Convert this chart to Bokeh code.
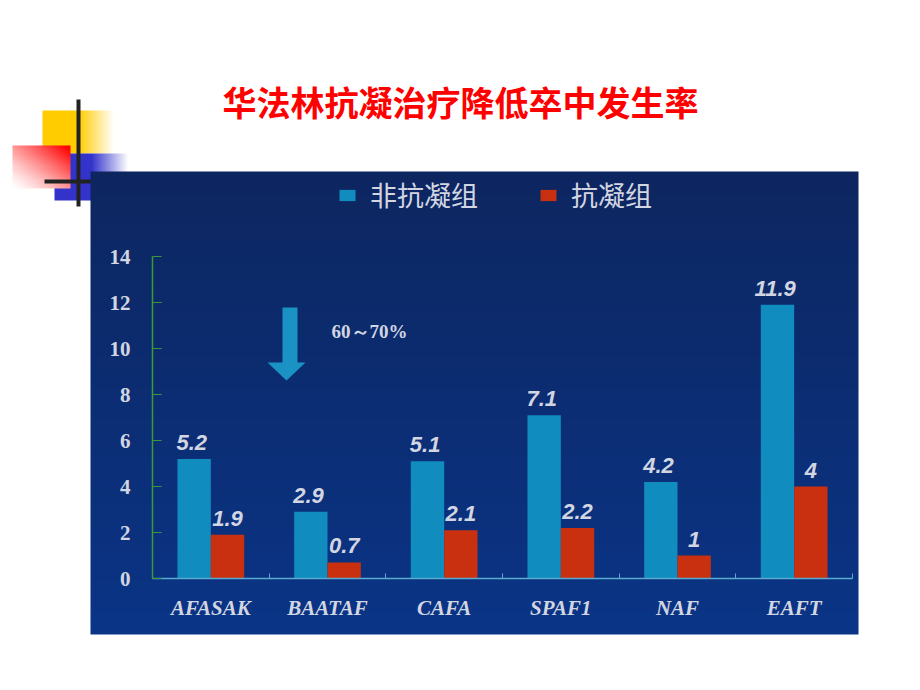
import numpy as np
from bokeh.plotting import figure
from bokeh.models import (ColumnDataSource, Range1d, LinearAxis, FixedTicker,
                          Legend, LegendItem)
from bokeh.transform import dodge
from bokeh.core.properties import value
from bokeh.embed import file_html
from bokeh.resources import INLINE

# ---------------- data ----------------
title_text = "华法林抗凝治疗降低卒中发生率"
categories = ["AFASAK", "BAATAF", "CAFA", "SPAF1", "NAF", "EAFT"]
non_anticoag = [5.2, 2.9, 5.1, 7.1, 4.2, 11.9]
anticoag = [1.9, 0.7, 2.1, 2.2, 1.0, 4.0]
series_names = ["非抗凝组", "抗凝组"]
y_ticks = [0, 2, 4, 6, 8, 10, 12, 14]
annotation_text = "60～70%"

# ---------------- styling / layout ----------------
W, H = 904, 674
ORIGIN = 0                          # page offset of the canvas
PX_X0, PX_PER_X = 152.0, 116.667   # pixel of x=0, pixels per category
PX_Y0, PX_PER_Y = 578.0, 23.0      # pixel of y=0, pixels per unit


def dx(px):
    return (px - PX_X0) / PX_PER_X


def dy(py):
    return (PX_Y0 - py) / PX_PER_Y


BLUE = "#108cbe"
RED = "#c83010"
LIGHT = "#d2d6e2"

p = figure(width=W, height=H, output_backend="svg", toolbar_location=None,
           x_axis_type=None, y_axis_type=None, title=None,
           x_range=Range1d(dx(ORIGIN), dx(ORIGIN + W)),
           y_range=Range1d(dy(ORIGIN + H), dy(ORIGIN)),
           min_border=0, min_border_left=0, min_border_right=0,
           min_border_top=0, min_border_bottom=0)
p.background_fill_color = "white"
p.border_fill_color = "white"
p.outline_line_color = None


def rgba_img(h, w, fn):
    a = np.zeros((h, w, 4), dtype=np.uint8)
    for r in range(h):
        for c in range(w):
            a[r, c] = fn(r / max(h - 1, 1), c / max(w - 1, 1))
    return a.view(np.uint32).reshape(h, w)


def mix(c1, c2, t):
    return [int(round(c1[i] * (1 - t) + c2[i] * t)) for i in range(3)] + [255]


WHITE = (255, 255, 255)


def place(img, left, top, right, bottom, level):
    p.image_rgba(image=[img], x=dx(left), y=dy(bottom),
                 dw=(right - left) / PX_PER_X, dh=(bottom - top) / PX_PER_Y,
                 level=level)


# decorations (slide template)
yel = (255, 204, 0)
place(rgba_img(2, 72, lambda v, u: mix(yel, WHITE, max(0.0, (u - 0.5) / 0.5))),
      42, 110, 114, 153, "image")
blu = (51, 51, 204)
place(rgba_img(2, 74, lambda v, u: mix(blu, WHITE, max(0.0, (u - 0.5) / 0.5))),
      54, 153, 128, 200, "image")
red = (255, 0, 0)
place(rgba_img(40, 58, lambda v, u: mix(WHITE, red, min(1.0, ((u + v) / 2) ** 1.3 * 1.05))),
      12, 145, 70, 188, "image")
p.segment(x0=[dx(78)], y0=[dy(99)], x1=[dx(78)], y1=[dy(206)],
          line_color="#222222", line_width=4, level="image")
p.segment(x0=[dx(44)], y0=[dy(181)], x1=[dx(95)], y1=[dy(181)],
          line_color="#222222", line_width=4, level="image")

# dark blue panel with vertical gradient
top_c, bot_c = (13, 38, 96), (10, 52, 134)
place(rgba_img(60, 1, lambda v, u: mix(bot_c, top_c, v)), 90, 171, 858, 634, "underlay")

# title
p.text(x=[dx(460)], y=[dy(101)], text=[title_text], text_align="center",
       text_baseline="middle", text_color="#ff0000",
       text_font=value("Noto Sans CJK SC"), text_font_style="bold",
       text_font_size="34px")

# bars
src = ColumnDataSource(dict(
    x=[i + 0.5 for i in range(len(categories))],
    a=non_anticoag, b=anticoag,
    la=[f"{v:g}" for v in non_anticoag],
    lb=[f"{v:g}" for v in anticoag],
))
bw = 0.286
r1 = p.vbar(x=dodge("x", -bw / 2), top="a", width=bw, source=src,
            fill_color=BLUE, line_color=None)
r2 = p.vbar(x=dodge("x", bw / 2), top="b", width=bw, source=src,
            fill_color=RED, line_color=None)

lab_kw = dict(text_align="center", text_baseline="bottom", y_offset=-9,
              text_color=LIGHT, text_font=value("Liberation Sans"),
              text_font_style="bold italic", text_font_size="22px", source=src)
p.text(x=dodge("x", -bw / 2 - 0.02), y="a", text="la", **lab_kw)
p.text(x=dodge("x", bw / 2), y="b", text="lb", **lab_kw)

# arrow + annotation
p.patch(x=[dx(v) for v in [282, 297, 297, 305, 286, 267, 282]],
        y=[dy(v) for v in [307, 307, 362, 362, 380, 362, 362]],
        fill_color="#1a92c4", line_color=None)
p.text(x=[dx(331)], y=[dy(331)], text=[annotation_text], text_align="left",
       text_baseline="middle", text_color=LIGHT,
       text_font=value("Liberation Serif"), text_font_style="bold",
       text_font_size="19px")

# axes
xaxis = LinearAxis(fixed_location=0, bounds=(0, len(categories)))
xaxis.ticker = FixedTicker(ticks=[i + 0.5 for i in range(len(categories))],
                           minor_ticks=list(range(len(categories) + 1)))
xaxis.major_label_overrides = {i + 0.5: c for i, c in enumerate(categories)}
xaxis.major_tick_in = 0
xaxis.major_tick_out = 0
xaxis.minor_tick_in = 5
xaxis.minor_tick_out = 0
xaxis.axis_line_color = "#5aaad2"
xaxis.minor_tick_line_color = "#5aaad2"
xaxis.axis_line_width = 1.5
xaxis.major_label_standoff = 17
xaxis.major_label_text_font = "Liberation Serif"
xaxis.major_label_text_font_style = "bold italic"
xaxis.major_label_text_font_size = "21px"
xaxis.major_label_text_color = LIGHT
p.add_layout(xaxis, "below")

yaxis = LinearAxis(fixed_location=0, bounds=(0, 14))
yaxis.ticker = FixedTicker(ticks=y_ticks, minor_ticks=[])
yaxis.major_tick_in = 9
yaxis.major_tick_out = 0
yaxis.minor_tick_in = 0
yaxis.minor_tick_out = 0
yaxis.axis_line_color = "#3a9a3a"
yaxis.major_tick_line_color = "#3a9a3a"
yaxis.axis_line_width = 1.5
yaxis.major_label_standoff = 22
yaxis.major_label_text_font = "Liberation Serif"
yaxis.major_label_text_font_style = "bold"
yaxis.major_label_text_font_size = "21px"
yaxis.major_label_text_color = LIGHT
p.add_layout(yaxis, "left")

# legend
legend = Legend(items=[LegendItem(label=series_names[0], renderers=[r1]),
                       LegendItem(label=series_names[1], renderers=[r2])],
                location=(337, 460), orientation="horizontal",
                background_fill_alpha=0, border_line_color=None,
                label_text_color=LIGHT, label_text_font="Noto Sans CJK SC",
                label_text_font_size="27px", glyph_width=20, glyph_height=14,
                label_standoff=13, spacing=60, padding=0, margin=0)
p.add_layout(legend)

open("out.html", "w").write(file_html(p, INLINE))
